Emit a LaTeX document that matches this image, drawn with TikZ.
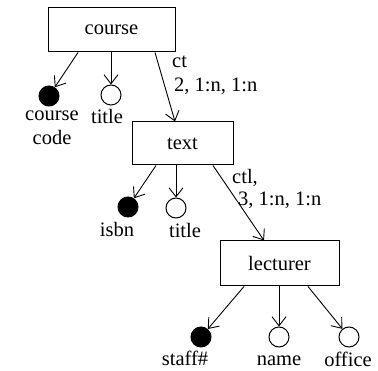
\documentclass[tikz,border=0pt]{standalone}
\usepackage{fontspec}
\setmainfont{Liberation Serif}
\usetikzlibrary{arrows.meta,calc}
\begin{document}
\begin{tikzpicture}[x=1pt,y=1pt,
  every node/.style={font=\fontsize{20.5}{24}\selectfont},
  entbox/.style={draw,line width=1pt,rectangle,inner sep=0pt},
  keyatt/.style={draw,circle,fill=black,minimum size=20pt,inner sep=0pt,line width=1pt},
  att/.style={draw,circle,fill=white,minimum size=20pt,inner sep=0pt,line width=1pt},
  lbl/.style={inner sep=0pt,align=center},
  conn/.style={line width=0.9pt,-{Straight Barb[length=9pt,width=14pt,line width=0.9pt]}}]
\useasboundingbox (0,0) rectangle (378,-371);
% entities
\node[entbox,minimum width=127pt,minimum height=44pt] (course) at (111.5,-30) {course};
\node[entbox,minimum width=101pt,minimum height=43pt] (text) at (182.5,-143.5) {text};
\node[entbox,minimum width=119pt,minimum height=45pt] (lect) at (279.5,-263.5) {lecturer};
% attributes
\node[keyatt] (cc) at (49,-96) {};
\node[lbl] (cclbl) at (52,-128) {course\\code};
\node[att] (t1) at (111,-95) {};
\node[lbl] (t1lbl) at (107,-116) {title};
\node[keyatt] (isbn) at (128,-207) {};
\node[lbl] (isbnlbl) at (117,-229) {isbn};
\node[att] (t2) at (176,-208) {};
\node[lbl] (t2lbl) at (185,-230) {title};
\node[keyatt] (staff) at (201,-337) {};
\node[lbl] (stafflbl) at (185,-358) {staff\#};
\node[att] (name) at (279,-337) {};
\node[lbl] (namelbl) at (279,-361) {name};
\node[att] (office) at (349,-337) {};
\node[lbl] (officelbl) at (348,-359) {office};
% relationship labels
\node[lbl,anchor=west] (ct1) at (172,-62) {ct};
\node[lbl,anchor=west] (ct2) at (174,-86) {2, 1:n, 1:n};
\node[lbl,anchor=west] (ctl1) at (232,-178) {ctl,};
\node[lbl,anchor=west] (ctl2) at (238,-200) {3, 1:n, 1:n};
% connectors
\draw[conn] ([xshift=-33.5pt]course.south) -- (cc);
\draw[conn] (t1 |- course.south) -- (t1);
\draw[conn] ([xshift=43.5pt]course.south) -- ([xshift=-7.5pt]text.north);
\draw[conn] ([xshift=-26.5pt]text.south) -- (isbn);
\draw[conn] (t2 |- text.south) -- (t2);
\draw[conn] ([xshift=30.5pt]text.south) -- ([xshift=-15.5pt]lect.north);
\draw[conn] ([xshift=-35.5pt]lect.south) -- (staff);
\draw[conn] (name |- lect.south) -- (name);
\draw[conn] ([xshift=28.5pt]lect.south) -- (office);
\end{tikzpicture}
\end{document}
